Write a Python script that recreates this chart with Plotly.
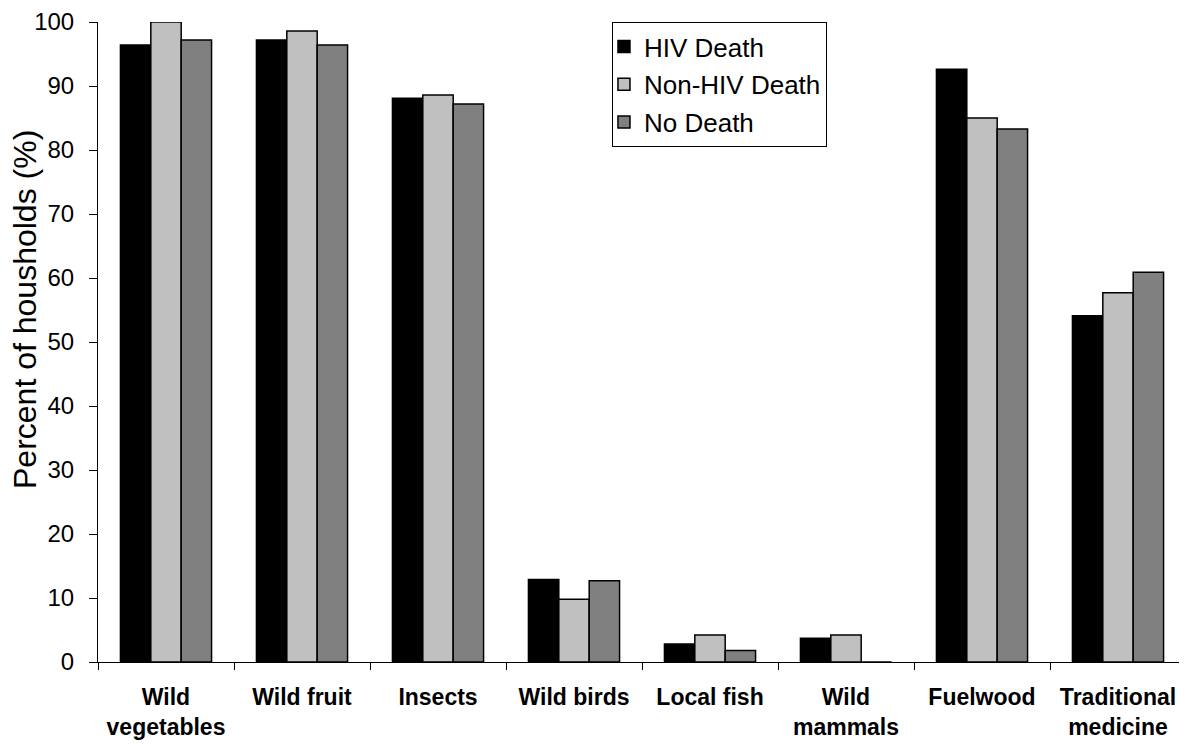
import plotly.graph_objects as go

categories = ["Wild<br>vegetables", "Wild fruit", "Insects", "Wild birds", "Local fish",
              "Wild<br>mammals", "Fuelwood", "Traditional<br>medicine"]
hiv_death = [96.4, 97.2, 88.1, 12.9, 2.8, 3.7, 92.6, 54.1]
non_hiv_death = [100.0, 98.6, 88.6, 9.8, 4.2, 4.2, 85.0, 57.7]
no_death = [97.2, 96.4, 87.2, 12.7, 1.8, 0.0, 83.3, 60.9]
y_ticks = [0, 10, 20, 30, 40, 50, 60, 70, 80, 90, 100]
y_title = "Percent of housholds (%)"

series = [("HIV Death", hiv_death, "#000000"),
          ("Non-HIV Death", non_hiv_death, "#C0C0C0"),
          ("No Death", no_death, "#808080")]

FONT = "Arial, Liberation Sans, sans-serif"

fig = go.Figure()
for name, vals, col in series:
    fig.add_trace(go.Bar(x=categories, y=vals, name=name, marker_color=col,
                         legendgroup=name,
                         marker_line=dict(color="#000000", width=1.5)))

fig.update_layout(
    width=1179, height=742,
    margin=dict(l=90, r=1, t=14, b=88, autoexpand=False),
    paper_bgcolor="white", plot_bgcolor="white",
    barmode="group", bargap=0.33, bargroupgap=0,
    font=dict(family=FONT, color="#000000"),
    legend=dict(x=0.4724, y=1.0, xanchor="left", yanchor="top",
                bordercolor="#000000", borderwidth=1, bgcolor="white",
                font=dict(size=26, family=FONT), tracegroupgap=1, itemwidth=30,
                indentation=-9),
    showlegend=True,
    annotations=[dict(text=y_title, xref="paper", yref="paper",
                      x=(25 - 98) / 1088, y=(662 - 310) / 640,
                      xanchor="center", yanchor="middle", textangle=-90,
                      showarrow=False, font=dict(size=32, family=FONT))],
)
fig.update_yaxes(range=[0, 100], tickvals=y_ticks, showgrid=False, zeroline=False,
                 automargin=False,
                 showline=True, linecolor="#000000", linewidth=1,
                 ticks="outside", ticklen=8, tickcolor="#000000",
                 ticklabelstandoff=10,
                 tickfont=dict(size=24, family=FONT))
fig.update_xaxes(showgrid=False, showline=True, linecolor="#000000", linewidth=1,
                 automargin=False,
                 ticks="outside", ticklen=7, tickcolor="#000000", tickson="boundaries",
                 ticklabelstandoff=14,
                 tickfont=dict(size=23, family=FONT, weight="bold"))

fig.write_html("out.html")
